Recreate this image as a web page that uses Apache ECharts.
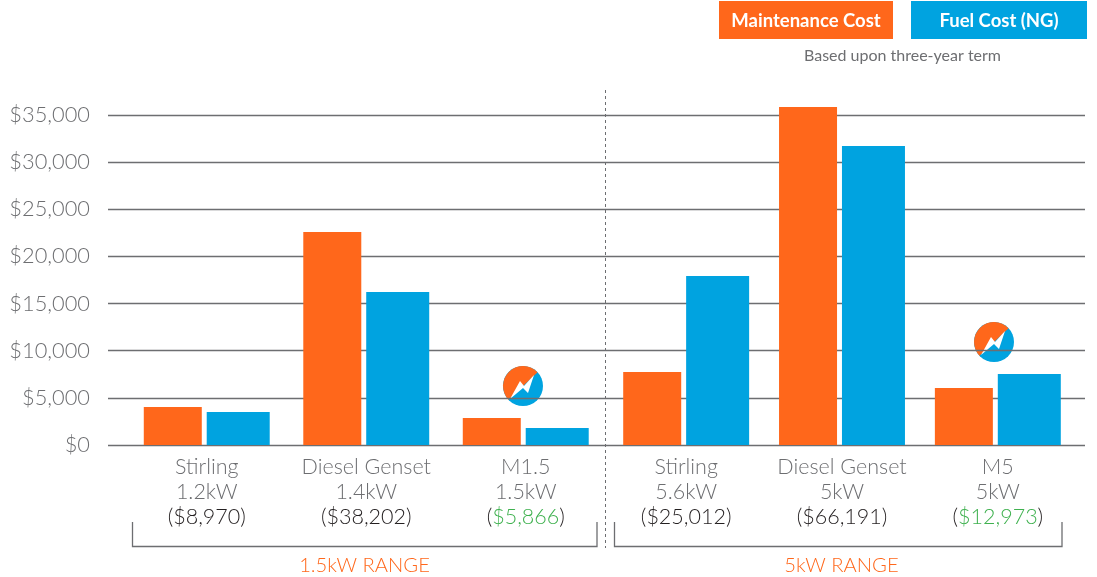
<!DOCTYPE html>
<html>
<head>
<meta charset="utf-8">
<style>
    html, body { margin: 0; padding: 0; background: #fff; }
    #chart { width: 1097px; height: 577px; }
</style>
</head>
<body>
<div id="chart"></div>
<script src="https://cdn.jsdelivr.net/npm/echarts@6/dist/echarts.min.js"></script>
<script>
const systems = ["Stirling", "Diesel Genset", "M1.5", "Stirling", "Diesel Genset", "M5"];
const powers = ["1.2kW", "1.4kW", "1.5kW", "5.6kW", "5kW", "5kW"];
const totals = ["$8,970", "$38,202", "$5,866", "$25,012", "$66,191", "$12,973"];
const highlighted = [false, false, true, false, false, true];
const maintenanceCost = [4030, 22590, 2860, 7740, 35840, 6040];
const fuelCost = [3500, 16230, 1800, 17920, 31700, 7530];
const yTicks = [0, 5000, 10000, 15000, 20000, 25000, 30000, 35000];

const ORANGE = "#ff671b";
const BLUE = "#00a3e0";
const GREY = "#6d6e71";
const LINE = "#6d6e71";
const FONT = "Lato";

function axisLabelText(i) {
    const total = highlighted[i]
        ? `{total|(}{good|${totals[i]}}{total|)}`
        : `{total|(${totals[i]})}`;
    return `{name|${systems[i]}}\n{name|${powers[i]}}\n${total}`;
}

function categoryAxis(gridIndex, start) {
    return {
        type: "category",
        gridIndex: gridIndex,
        data: systems.slice(start, start + 3),
        axisLine: { show: false },
        axisTick: { show: false },
        axisLabel: {
            interval: 0,
            margin: 10,
            formatter: (value, i) => axisLabelText(start + i),
            rich: {
                name: { fontFamily: FONT, fontWeight: 300, fontSize: 21.5, lineHeight: 25, color: GREY },
                total: { fontFamily: FONT, fontWeight: 300, fontSize: 21.5, lineHeight: 25, color: "#231f20" },
                good: { fontFamily: FONT, fontWeight: 300, fontSize: 21.5, lineHeight: 25, color: "#3fb14f" },
            },
        },
    };
}

function hiddenValueAxis(gridIndex) {
    return { type: "value", gridIndex: gridIndex, min: 0, max: 35000, interval: 5000, show: false };
}

function barSeries(name, values, color, width, axisIndex) {
    return {
        name: name,
        type: "bar",
        data: values,
        xAxisIndex: axisIndex,
        yAxisIndex: axisIndex,
        barWidth: width,
        barGap: "8.5%",
        clip: false,
        z: 3,
        itemStyle: { color: color },
    };
}

// orange and blue disc with the white bolt
function badge(cx, cy) {
    return {
        type: "group",
        x: cx,
        y: cy,
        z: 10,
        children: [
            { type: "circle", shape: { r: 22 }, style: { fill: "#fff" } },
            { type: "circle", shape: { r: 20 }, style: { fill: BLUE } },
            { type: "sector", shape: { r: 20, r0: 0, startAngle: Math.PI * 0.76, endAngle: Math.PI * 1.76 }, style: { fill: ORANGE } },
            { type: "polygon", shape: { points: [[-13, 13], [-3, -5], [1, 0], [11, -11], [5, 7], [0, 2]] }, style: { fill: "#fff" } },
        ],
    };
}

function legendBox(x, width, label, color) {
    return {
        type: "group",
        x: x,
        y: 1,
        children: [
            { type: "rect", shape: { width: width, height: 38 }, style: { fill: color } },
            { type: "text", x: width / 2, y: 20.5, style: { text: label, fill: "#fff", font: `700 18.5px ${FONT}`, align: "center", verticalAlign: "middle" } },
        ],
    };
}

function bracket(x0, x1, labelX, label) {
    return [
        { type: "polyline", shape: { points: [[x0, 522], [x0, 546.5], [x1, 546.5], [x1, 522]] }, style: { fill: null, stroke: LINE, lineWidth: 1.3 } },
        { type: "text", x: labelX, y: 565, style: { text: label, fill: ORANGE, font: `300 20.2px ${FONT}`, align: "center", verticalAlign: "middle" } },
    ];
}

const option = {
    animation: false,
    textStyle: { fontFamily: FONT },
    grid: [
        { left: 108, top: 115, width: 977, height: 330 },
        { left: 127, top: 115, width: 478.5, height: 330 },
        { left: 608.25, top: 115, width: 467.5, height: 330 },
    ],
    xAxis: [
        { type: "category", gridIndex: 0, data: [], show: false },
        categoryAxis(1, 0),
        categoryAxis(2, 3),
    ],
    yAxis: [
        {
            type: "value",
            gridIndex: 0,
            min: yTicks[0],
            max: yTicks[yTicks.length - 1],
            interval: yTicks[1] - yTicks[0],
            axisLine: { show: false },
            axisTick: { show: false },
            splitLine: { show: true, lineStyle: { color: LINE, width: 1.3 } },
            axisLabel: {
                margin: 18,
                fontFamily: FONT,
                fontWeight: 300,
                fontSize: 21.8,
                lineHeight: 24,
                padding: [2, 0, 0, 0],
                color: GREY,
                formatter: (v) => "$" + v.toLocaleString("en-US"),
            },
        },
        hiddenValueAxis(1),
        hiddenValueAxis(2),
    ],
    series: [
        barSeries("Maintenance Cost", maintenanceCost.slice(0, 3), ORANGE, 58, 1),
        barSeries("Fuel Cost (NG)", fuelCost.slice(0, 3), BLUE, 63, 1),
        barSeries("Maintenance Cost", maintenanceCost.slice(3), ORANGE, 58, 2),
        barSeries("Fuel Cost (NG)", fuelCost.slice(3), BLUE, 63, 2),
    ],
    graphic: [
        legendBox(719, 174, "Maintenance Cost", ORANGE),
        legendBox(911, 176, "Fuel Cost (NG)", BLUE),
        { type: "text", x: 902.5, y: 56, style: { text: "Based upon three-year term", fill: LINE, font: `400 16px ${FONT}`, align: "center", verticalAlign: "middle" } },
        { type: "line", shape: { x1: 605.5, y1: 90, x2: 605.5, y2: 548 }, style: { stroke: LINE, lineWidth: 1, lineDash: [3, 3] } },
        badge(523, 386),
        badge(994, 342),
        ...bracket(132.5, 597, 364.5, "1.5kW RANGE"),
        ...bracket(614.5, 1062, 841.5, "5kW RANGE"),
    ],
};

const chart = echarts.init(document.getElementById("chart"));
chart.setOption(option);
</script>
</body>
</html>
